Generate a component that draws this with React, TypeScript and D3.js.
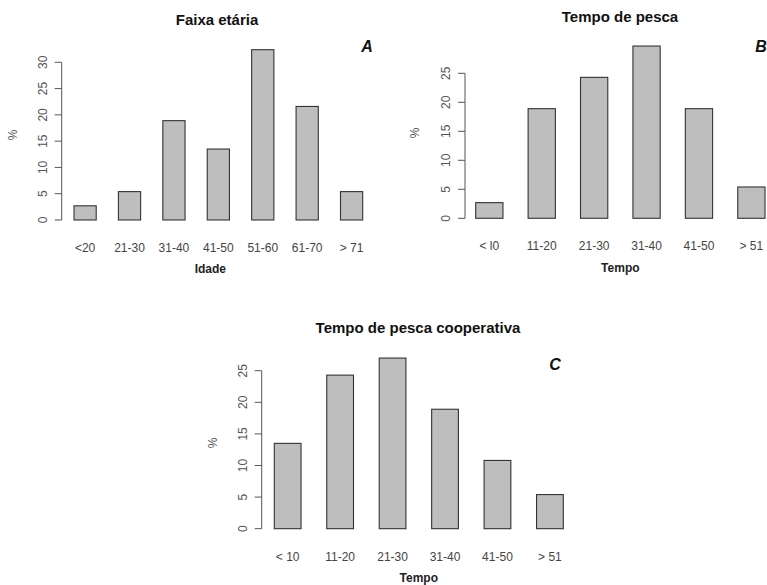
import React from "react";
import * as d3 from "d3";

const ageCategories = ["<20", "21-30", "31-40", "41-50", "51-60", "61-70", "> 71"];
const ageValues = [2.7, 5.4, 18.9, 13.5, 32.4, 21.6, 5.4];
const ageTicks = [0, 5, 10, 15, 20, 25, 30];

const fishCategories = ["< l0", "11-20", "21-30", "31-40", "41-50", "> 51"];
const fishValues = [2.7, 18.9, 24.3, 29.7, 18.9, 5.4];
const fishTicks = [0, 5, 10, 15, 20, 25];

const coopCategories = ["< 10", "11-20", "21-30", "31-40", "41-50", "> 51"];
const coopValues = [13.5, 24.3, 27.0, 18.9, 10.8, 5.4];
const coopTicks = [0, 5, 10, 15, 20, 25];

const titles = ["Faixa etária", "Tempo de pesca", "Tempo de pesca cooperativa"];
const xTitles = ["Idade", "Tempo", "Tempo"];
const letters = ["A", "B", "C"];

type Layout = {
  axisX: number; y0: number; yTopVal: number; yTopPx: number;
  barL: number; barR: number; labelY: number; xTitleY: number;
  titleX: number; titleY: number; letterX: number; letterY: number;
  pctX: number; pctY: number; tickLabelX: number; padInner: number;
};

const layouts: Layout[] = [
  { axisX: 61.7, y0: 220, yTopVal: 30, yTopPx: 62.3, barL: 74, barR: 362.7, labelY: 252, xTitleY: 273,
    titleX: 217, titleY: 25, letterX: 367, letterY: 52, pctX: 17, pctY: 135, tickLabelX: 47, padInner: 0.5 },
  { axisX: 465, y0: 218.3, yTopVal: 25, yTopPx: 73.3, barL: 475.7, barR: 765, labelY: 250, xTitleY: 272,
    titleX: 620, titleY: 22, letterX: 761, letterY: 52, pctX: 419, pctY: 133, tickLabelX: 450, padInner: 0.48 },
  { axisX: 261.7, y0: 528.7, yTopVal: 25, yTopPx: 370.7, barL: 274.3, barR: 563.3, labelY: 561, xTitleY: 582,
    titleX: 418, titleY: 333, letterX: 555, letterY: 370, pctX: 217, pctY: 443, tickLabelX: 247, padInner: 0.49 },
];

const datasets = [
  { cats: ageCategories, vals: ageValues, ticks: ageTicks },
  { cats: fishCategories, vals: fishValues, ticks: fishTicks },
  { cats: coopCategories, vals: coopValues, ticks: coopTicks },
];

const font = "'Liberation Sans', Arial, sans-serif";
const axisColor = "#555";

function Panel({ i }: { i: number }) {
  const L = layouts[i];
  const D = datasets[i];
  const y = d3.scaleLinear().domain([0, L.yTopVal]).range([L.y0, L.yTopPx]);
  const x = d3.scaleBand<string>().domain(D.cats).range([L.barL, L.barR]).paddingInner(L.padInner).paddingOuter(0);
  const bw = x.bandwidth();
  const tMax = D.ticks[D.ticks.length - 1];
  return (
    <g>
      <text x={L.titleX} y={L.titleY} textAnchor="middle" fontFamily={font} fontWeight="bold" fontSize={15} fill="#111">
        {titles[i]}
      </text>
      <text x={L.letterX} y={L.letterY} textAnchor="middle" fontFamily={font} fontWeight="bold" fontStyle="italic" fontSize={16} fill="#111">
        {letters[i]}
      </text>
      {D.cats.map((c, k) => (
        <rect key={c} x={x(c)} y={y(D.vals[k])} width={bw} height={y(0) - y(D.vals[k])}
          fill="#bebebe" stroke="#333" strokeWidth={1.1} />
      ))}
      <line x1={L.axisX} x2={L.axisX} y1={y(0)} y2={y(tMax)} stroke={axisColor} strokeWidth={1} />
      {D.ticks.map((t) => (
        <g key={t}>
          <line x1={L.axisX - 7} x2={L.axisX} y1={y(t)} y2={y(t)} stroke={axisColor} strokeWidth={1} />
          <text x={L.tickLabelX} y={y(t)} transform={`rotate(-90 ${L.tickLabelX} ${y(t)})`} textAnchor="middle"
            fontFamily={font} fontSize={12} fill="#555">{t}</text>
        </g>
      ))}
      <text x={L.pctX} y={L.pctY} transform={`rotate(-90 ${L.pctX} ${L.pctY})`} textAnchor="middle"
        fontFamily={font} fontSize={12} fill="#555">%</text>
      {D.cats.map((c) => (
        <text key={c} x={(x(c) as number) + bw / 2} y={L.labelY} textAnchor="middle" fontFamily={font}
          fontSize={12} fill="#444">{c}</text>
      ))}
      <text x={(L.barL + L.barR) / 2 + (i === 0 ? -8 : 0)} y={L.xTitleY} textAnchor="middle" fontFamily={font}
        fontWeight="bold" fontSize={12} fill="#222">{xTitles[i]}</text>
    </g>
  );
}

export default function App() {
  return (
    <svg width={767} height={585} style={{ position: "absolute", left: 0, top: 0, background: "#fff" }}>
      <rect width={767} height={585} fill="#fff" />
      {[0, 1, 2].map((i) => <Panel key={i} i={i} />)}
    </svg>
  );
}
